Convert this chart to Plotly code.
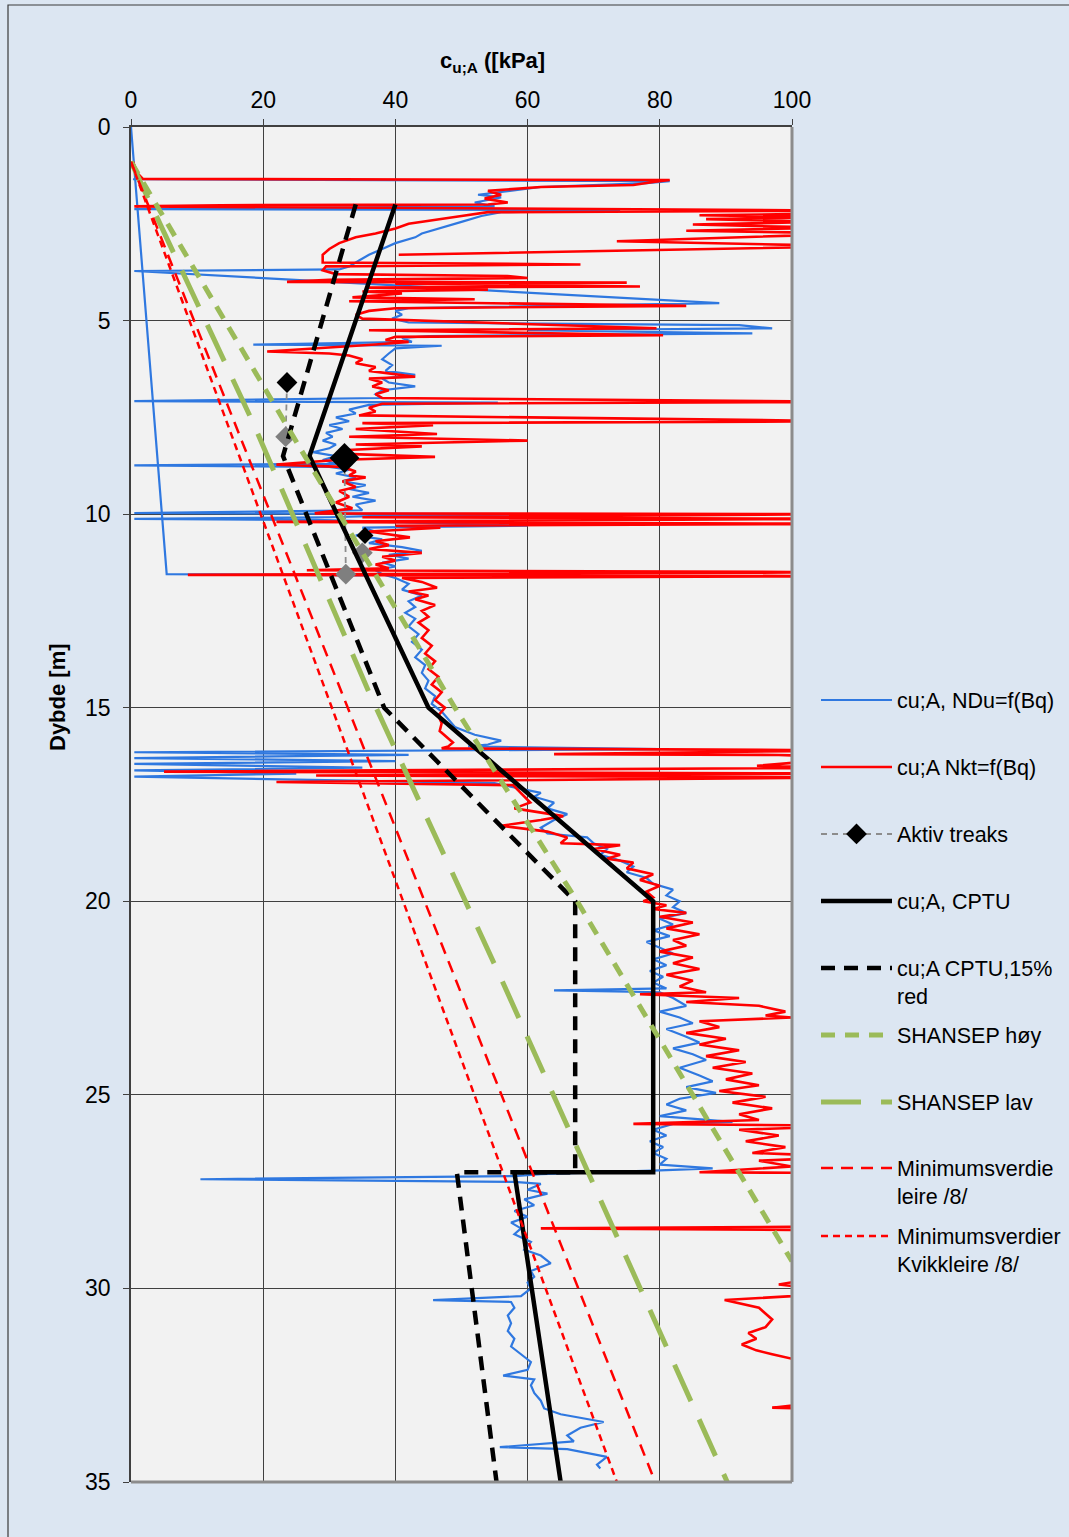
import plotly.graph_objects as go

N = None

# ---------------- data (kPa, depth m) ----------------
# cu;A, NDu=f(Bq) (blue) - None separates line pieces
ndu_kpa = [0, 5.4, 36, N,
    0.3, 81.5, 78, 62, 52.5, 56, 52, 55, 0.5, 74, 56, 53, 50, 47, 44, 43, 40, 38, 36, 34.5, 33, 31.5,
    0.5, 89, 60, 42, 40, 41, 39.5, 42, 92, 97, 60, 94, 45, 41, 42.5, 18.5, 47, 40, 39, 38, 39.5, 38.5,
    43, 38, 39, 43, 38, 37, 38, 0.5, 55.5, 36, 33, 34, 31, 33, 30, 32, 29.5, 30.5, 29, 31, 30, 27.5,
    31, 29, 31, 0.5, 30, 33, 31, 34, 32, 35.5, 33, 36, 33.5, 37, 34, 35, 0.5, 63, 36, 30, 0.5, 28, 60,
    35, 37, 34, 38, 36, 41, 44, 39, 42, 38, 40, 37, 38, 40, 42, 41, 44, 42, 43, 41.5, 43, 42, 43.5,
    42.5, 44, 43, 44.5, 44, 45, 44.5, 46, 45.5, 47, 48, 49, 52, 56, 54, 51, 80, 45, 0.5, 42, 0.5, 40,
    0.5, 35, 0.5, 25, 0.5, 55, 59, 62, 61, 64, 63, 66, 64, 62, 63, 69, 70, 72, 71, 74, 76, 75, 78, 79,
    82, 81, 83, 82, 84, 80, 82, 79, 81.5, 78, 80, 82, 79, 81, 78.5, 80.5, 79, 81, 64, 80, 82, 84, 80,
    83, 85, 81, 84, 86, 82, 85, 87, 83, 86, 88, 84, 88.5, 83, 81, 84, 80, 91, 82, 79, 81, 78.5, 80.5,
    79, 81, 80, 88, 80, 62, 58, 10.5, 40, 58, 62, 60, 63, 59.5, 61, 58, 60, 57.5, 59, 58, 60.5, 59.5,
    62, 63.5, 60.5, 61, 60, 60.5, 59, 45.7, 57.5, 58, 57, 57.5, 57, 58, 57.5, 59, 60.5, 60, 56.3, 61,
    60.5, 61, 62, 62.5, 65, 71.5, 68, 66, 67, 55.8, 66, 72, 70.5, 71]
ndu_depth = [0, 11.55, 11.58, N,
    1.35, 1.4, 1.45, 1.55, 1.75, 1.82, 1.95, 2.05, 2.12, 2.15, 2.2, 2.3, 2.45, 2.6, 2.75, 2.85, 3.0, 3.15, 3.3, 3.45, 3.6, 3.68,
    3.72, 4.55, 4.62, 4.68, 4.75, 4.85, 4.95, 5.05, 5.12, 5.2, 5.25, 5.33, 5.4, 5.45, 5.55, 5.62, 5.65, 5.72, 5.85, 6.0, 6.15, 6.3,
    6.4, 6.5, 6.6, 6.7, 6.8, 6.9, 7.0, 7.08, 7.12, 7.18, 7.3, 7.4, 7.5, 7.6, 7.7, 7.8, 7.9, 8.0, 8.1, 8.2, 8.3, 8.4,
    8.5, 8.6, 8.7, 8.74, 8.78, 8.85, 8.95, 9.05, 9.15, 9.25, 9.35, 9.45, 9.55, 9.65, 9.75, 9.9, 9.97, 10.0, 10.05, 10.08, 10.12, 10.15, 10.3,
    10.35, 10.45, 10.55, 10.65, 10.75, 10.85, 10.95, 11.05, 11.15, 11.25, 11.35, 11.45, 11.55, 11.65, 11.8, 11.95, 12.1, 12.25, 12.4, 12.55, 12.7, 12.9, 13.1,
    13.3, 13.5, 13.7, 13.9, 14.1, 14.3, 14.5, 14.7, 14.9, 15.1, 15.3, 15.5, 15.7, 15.85, 15.95, 16.0, 16.07, 16.1, 16.15, 16.22, 16.3, 16.38,
    16.45, 16.55, 16.62, 16.7, 16.78, 16.95, 17.1, 17.2, 17.3, 17.45, 17.6, 17.75, 17.9, 18.1, 18.25, 18.35, 18.5, 18.65, 18.8, 18.95, 19.1, 19.25, 19.4, 19.55,
    19.7, 19.85, 20.0, 20.15, 20.3, 20.45, 20.6, 20.75, 20.9, 21.05, 21.2, 21.35, 21.5, 21.65, 21.8, 21.95, 22.1, 22.25, 22.3, 22.35, 22.5, 22.7, 22.85,
    23.0, 23.15, 23.3, 23.5, 23.65, 23.8, 23.95, 24.1, 24.3, 24.5, 24.65, 24.8, 24.95, 25.1, 25.25, 25.4, 25.55, 25.7, 25.75, 25.9, 26.05, 26.2, 26.35,
    26.5, 26.65, 26.8, 26.9, 26.95, 27.05, 27.1, 27.18, 27.22, 27.25, 27.3, 27.45, 27.55, 27.7, 27.85, 28.0, 28.15, 28.3, 28.45, 28.6, 28.8, 29.0,
    29.15, 29.35, 29.55, 29.7, 29.85, 30.0, 30.2, 30.3, 30.35, 30.5, 30.7, 30.9, 31.1, 31.3, 31.5, 31.7, 31.9, 32.1, 32.25, 32.35,
    32.5, 32.7, 32.9, 33.1, 33.25, 33.45, 33.6, 33.8, 33.95, 34.1, 34.15, 34.35, 34.55, 34.65]

# cu;A Nkt=f(Bq) (red)
nkt_kpa = [0.3, 1.0, 1.8, 81.5, 79, 76, 62, 54, 56, 53.5, 57, 54, 13.5, 0.5, 110, 54, 50, 46, 42, 40, 37, 34,
    31.5, 30, 29, 29, 46.5, 68, 29.5, 29, 31, 57, 60, 30, 23.6, 75, 40, 77, 36, 54, 35, 41, 33.5, 52, 33,
    84, 40, 36, 34, 35, 79.5, 36, 80.5, 40, 38.5, 42, 37, 20.6, 30, 33, 35, 34, 37, 36, 43, 36, 38, 36.5,
    39, 37, 38, 110, 38, 36, 37, 34.5, 110, 35, 45.7, 34, 46.3, 33, 60, 34, 44, 32, 33.5, 46, 31, 22, 32,
    34, 33, 35.5, 32, 34, 31.5, 33, 31, 33.5, 27.8, 110, 35, 110, 22, 110, 40, 46.8, 36, 42.2, 37, 39, 36,
    44, 38, 40, 37, 39, 26.6, 110, 8.6, 110, 41, 44, 46.3, 42, 45, 43, 46, 44, 45, 43.5, 45, 44, 45.5,
    44.5, 46, 45, 46.5, 45.5, 47, 46, 47.5, 46.5, 47, 46.7, 48.7, 48, 47, 110, 64, 98, 110, 94.7, 110, 5,
    110, 28, 110, 22, 57.8, 60.4, 58, 65.4, 62, 56, 63, 66, 65, 74, 70, 74, 72, 76, 75, 79, 77, 80, 78,
    79, 77.5, 81, 79, 84, 80, 85, 81, 86, 82, 84, 80, 85, 82, 86, 81, 85, 83, 87, 77, 92, 84, 95, 99, 96,
    100, 86, 89, 84, 90, 86, 92, 87, 93, 88, 94, 90, 95, 89, 96, 91, 97, 92, 95, 76, 110, 92, 98, 93, 99,
    94, 110, 95, 100, 86, 110, 115, 110, 108, 62, 110, 112, 108, 98, 110, 89.8, 95, 97, 96, 93.4, 94.6,
    92.4, 94.6, 97, 101, 110, 112, 97, 110, 115, 112, N,
    105, 86, 105, 87, 105, 85, 105, 84, 110, 90, 73.5, 110, 40.5]
nkt_depth = [0.9, 1.2, 1.34, 1.37, 1.42, 1.5, 1.55, 1.65, 1.75, 1.85, 1.95, 2.0, 2.02, 2.05, 2.16, 2.2, 2.3, 2.4, 2.5, 2.62, 2.75, 2.85,
    3.0, 3.15, 3.3, 3.5, 3.52, 3.55, 3.6, 3.7, 3.8, 3.85, 3.9, 3.95, 4.0, 4.02, 4.05, 4.12, 4.15, 4.2, 4.25, 4.3, 4.4, 4.45, 4.5,
    4.62, 4.68, 4.75, 4.85, 4.95, 5.2, 5.25, 5.38, 5.42, 5.5, 5.55, 5.62, 5.8, 5.85, 5.9, 6.0, 6.1, 6.2, 6.3, 6.45, 6.5, 6.6, 6.7,
    6.8, 6.9, 7.0, 7.1, 7.15, 7.25, 7.35, 7.45, 7.6, 7.65, 7.7, 7.8, 7.93, 8.0, 8.1, 8.2, 8.25, 8.35, 8.45, 8.52, 8.6, 8.72, 8.78,
    8.9, 9.0, 9.05, 9.15, 9.3, 9.4, 9.55, 9.7, 9.85, 9.98, 10.0, 10.08, 10.12, 10.2, 10.25, 10.3, 10.35, 10.45, 10.6, 10.7, 10.8, 10.9,
    11.0, 11.1, 11.2, 11.3, 11.4, 11.45, 11.5, 11.57, 11.6, 11.65, 11.75, 11.9, 12.0, 12.1, 12.2, 12.35, 12.5, 12.65, 12.8, 13.0, 13.2, 13.4,
    13.6, 13.8, 14.0, 14.2, 14.4, 14.6, 14.8, 15.0, 15.2, 15.4, 15.6, 15.9, 16.0, 16.05, 16.1, 16.2, 16.22, 16.28, 16.5, 16.55, 16.65,
    16.7, 16.75, 16.8, 16.92, 17.0, 17.45, 17.6, 17.8, 17.9, 18.05, 18.2, 18.35, 18.5, 18.55, 18.65, 18.8, 18.9, 19.0, 19.15, 19.3, 19.45, 19.6, 19.75,
    19.9, 20.0, 20.1, 20.2, 20.3, 20.4, 20.55, 20.7, 20.85, 21.0, 21.15, 21.3, 21.45, 21.6, 21.75, 21.9, 22.05, 22.2, 22.35, 22.4, 22.5, 22.6, 22.7, 22.85, 22.95,
    23.0, 23.1, 23.25, 23.4, 23.55, 23.7, 23.85, 24.0, 24.15, 24.3, 24.45, 24.6, 24.75, 24.9, 25.05, 25.2, 25.35, 25.5, 25.65, 25.75, 25.8, 25.9, 26.05, 26.2, 26.35,
    26.5, 26.6, 26.7, 26.85, 27.0, 27.02, 27.5, 28.0, 28.4, 28.45, 28.5, 29.0, 29.6, 29.9, 30.1, 30.3, 30.5, 30.8, 31.0, 31.15, 31.3,
    31.45, 31.6, 31.7, 31.85, 32.2, 32.8, 33.08, 33.15, 34.0, 35.0, N,
    2.24, 2.28, 2.33, 2.38, 2.45, 2.52, 2.6, 2.68, 2.75, 2.85, 2.95, 3.08, 3.3]

# Aktiv treaks
treaks_kpa = [23.6, 23.4, N, 32.3, 32.5, N, 35.4, 35.0]
treaks_depth = [6.6, 8.0, N, 8.55, 11.55, N, 10.55, 11.0]
treaks_color = ['#000000', '#7f7f7f', '#000000', '#000000', '#7f7f7f', '#000000', '#000000', '#7f7f7f']
treaks_size = [16, 16, 16, 23, 16, 16, 13, 16]

# cu;A, CPTU and 15 % reduced
cptu_kpa = [40, 27, 45, 79, 79, 58, 65]
cptu_depth = [2, 8.5, 15, 20, 27, 27, 35]
cptu15_kpa = [34, 23, 38.3, 67.2, 67.2, 49.3, 55.3]
cptu15_depth = [2, 8.5, 15, 20, 27, 27, 35]

# SHANSEP
shansep_hoy_kpa = [0, 25.6, 49, 67.5, 100]
shansep_hoy_depth = [0.9, 8.3, 15, 20, 29.3]
shansep_lav_kpa = [0, 18.5, 36, 56, 90.2]
shansep_lav_depth = [0.9, 7.65, 14.6, 22, 35]

# Minimum values /8/
min_leire_kpa = [0, 79.3]
min_leire_depth = [0.9, 35]
min_kvikk_kpa = [0, 73.5]
min_kvikk_depth = [0.9, 35]

x_ticks = [0, 20, 40, 60, 80, 100]
y_ticks = [0, 5, 10, 15, 20, 25, 30, 35]

names = ["cu;A, NDu=f(Bq)", "cu;A Nkt=f(Bq)", "Aktiv treaks", "cu;A, CPTU",
         "cu;A CPTU,15%<br>red", "SHANSEP høy", "SHANSEP lav",
         "Minimumsverdie<br>leire /8/", "Minimumsverdier<br>Kvikkleire /8/"]

# ---------------- figure ----------------
FONT = "Arial, Liberation Sans, sans-serif"
L, R, T, B = 131, 792, 127, 1482
W, H = 1069, 1537
pw, ph = R - L, B - T


def fx(px):
    return (px - L) / pw


def fy(py):
    return (B - py) / ph


legend_ids = ["legend"] + ["legend%d" % i for i in range(2, 10)]
legend_sym_y = [700, 767, 834, 901, 968, 1035, 1102, 1168, 1236]

fig = go.Figure()
fig.add_trace(go.Scatter(x=ndu_kpa, y=ndu_depth, mode="lines", name=names[0], legend=legend_ids[0],
                         line=dict(color="#2f78e0", width=2.2), connectgaps=False))
fig.add_trace(go.Scatter(x=nkt_kpa, y=nkt_depth, mode="lines", name=names[1], legend=legend_ids[1],
                         line=dict(color="#ff0000", width=2.6), connectgaps=False))
fig.add_trace(go.Scatter(x=treaks_kpa, y=treaks_depth, mode="lines+markers", name=names[2], legend=legend_ids[2],
                         line=dict(color="#8c8c8c", width=1.8, dash="6px,5px"),
                         marker=dict(symbol="diamond", color=treaks_color, size=treaks_size, opacity=1,
                                     line=dict(width=0)),
                         connectgaps=False))
fig.add_trace(go.Scatter(x=cptu_kpa, y=cptu_depth, mode="lines", name=names[3], legend=legend_ids[3],
                         line=dict(color="#000000", width=4.5)))
fig.add_trace(go.Scatter(x=cptu15_kpa, y=cptu15_depth, mode="lines", name=names[4], legend=legend_ids[4],
                         line=dict(color="#000000", width=4.5, dash="14px,9px")))
fig.add_trace(go.Scatter(x=shansep_hoy_kpa, y=shansep_hoy_depth, mode="lines", name=names[5], legend=legend_ids[5],
                         line=dict(color="#9bbb59", width=5, dash="14px,10px")))
fig.add_trace(go.Scatter(x=shansep_lav_kpa, y=shansep_lav_depth, mode="lines", name=names[6], legend=legend_ids[6],
                         line=dict(color="#9bbb59", width=5, dash="40px,20px")))
fig.add_trace(go.Scatter(x=min_leire_kpa, y=min_leire_depth, mode="lines", name=names[7], legend=legend_ids[7],
                         line=dict(color="#ff0000", width=2.5, dash="12px,8px")))
fig.add_trace(go.Scatter(x=min_kvikk_kpa, y=min_kvikk_depth, mode="lines", name=names[8], legend=legend_ids[8],
                         line=dict(color="#ff0000", width=2.5, dash="7px,5px")))

legend_layout = {}
for lid, sy in zip(legend_ids, legend_sym_y):
    legend_layout[lid] = dict(x=fx(816), y=fy(sy - 20.5), xanchor="left", yanchor="top",
                              bgcolor="rgba(0,0,0,0)", borderwidth=0,
                              font=dict(size=21.5, family=FONT, color="#000000"),
                              itemwidth=71, valign="top")

fig.update_layout(
    width=W, height=H,
    paper_bgcolor="#dce6f2", plot_bgcolor="#f2f2f2",
    margin=dict(l=L, r=W - R, t=T, b=H - B, autoexpand=False),
    font=dict(family=FONT, color="#000000"),
    showlegend=True,
    xaxis=dict(range=[0, 100], side="top", tickvals=x_ticks, ticktext=[str(v) for v in x_ticks],
               showgrid=True, gridcolor="#404040", gridwidth=1, zeroline=False,
               showline=True, linecolor="#404040", linewidth=1.5,
               ticks="outside", ticklen=6, tickcolor="#404040",
               tickfont=dict(size=23, family=FONT), ticklabelstandoff=2, fixedrange=True),
    yaxis=dict(range=[35, 0], tickvals=y_ticks, ticktext=[str(v) for v in y_ticks],
               showgrid=True, gridcolor="#404040", gridwidth=1, zeroline=False,
               showline=True, linecolor="#404040", linewidth=1.5,
               ticks="outside", ticklen=6, tickcolor="#404040",
               tickfont=dict(size=23, family=FONT), ticklabelstandoff=8, fixedrange=True),
    shapes=[
        dict(type="rect", xref="paper", yref="paper", x0=fx(8), x1=fx(W + 10), y0=fy(5), y1=fy(H + 10),
             line=dict(color="#3a3a3a", width=1.2), fillcolor="rgba(0,0,0,0)", layer="below"),
        dict(type="line", xref="paper", yref="paper", x0=1, x1=1, y0=0, y1=1,
             line=dict(color="#8c8c8c", width=3), layer="above"),
        dict(type="line", xref="paper", yref="paper", x0=0, x1=1, y0=0, y1=0,
             line=dict(color="#8c8c8c", width=3), layer="above"),
    ],
    annotations=[
        dict(text="<b>c<sub>u;A</sub> ([kPa]</b>", xref="paper", yref="paper", x=fx(492), y=fy(62),
             xanchor="center", yanchor="middle", showarrow=False, font=dict(size=22, family=FONT)),
        dict(text="<b>Dybde [m]</b>", xref="paper", yref="paper", x=fx(57), y=fy(697), textangle=-90,
             xanchor="center", yanchor="middle", showarrow=False, font=dict(size=22, family=FONT)),
    ],
    **legend_layout,
)

fig.write_html("out.html", config={"displayModeBar": False},
               post_script="document.body.style.margin='0px';document.body.style.overflow='hidden';")
